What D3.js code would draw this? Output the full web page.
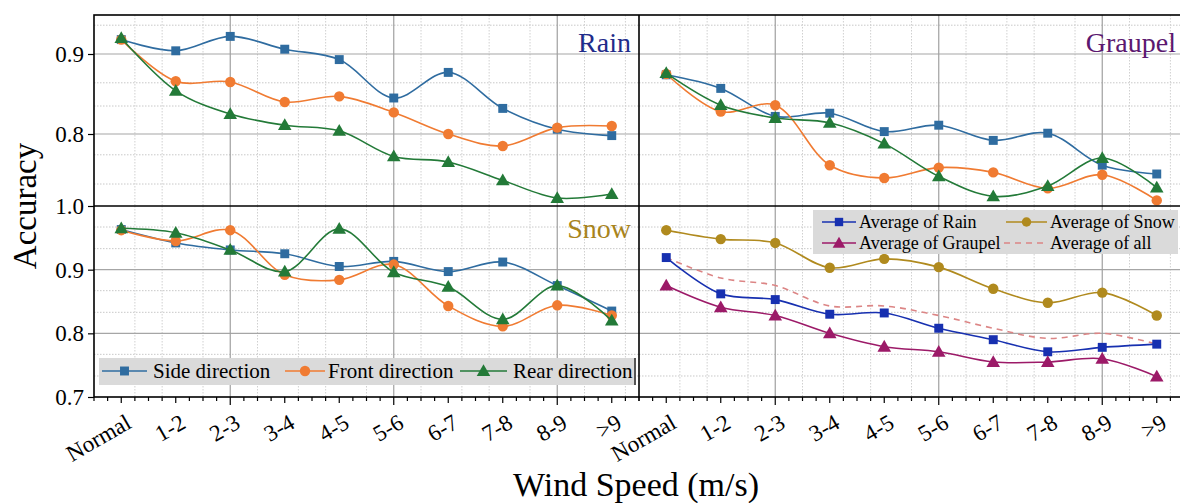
<!DOCTYPE html>
<html><head><meta charset="utf-8">
<script src="https://cdn.jsdelivr.net/npm/d3@7"></script>
<style>body{margin:0;background:#fff}svg{display:block;font-family:"Liberation Serif","Times New Roman",serif}</style>
</head><body><svg id="c" width="1180" height="503"></svg>
<script>
const categories = ["Normal","1-2","2-3","3-4","4-5","5-6","6-7","7-8","8-9",">9"];
// Rain panel
const rainSide  = [0.918,0.904,0.922,0.906,0.893,0.845,0.877,0.832,0.806,0.798];
const rainFront = [0.918,0.866,0.865,0.840,0.847,0.827,0.800,0.785,0.808,0.810];
const rainRear  = [0.920,0.854,0.825,0.811,0.804,0.772,0.765,0.742,0.720,0.725];
// Graupel panel
const graupelSide  = [0.874,0.857,0.822,0.826,0.803,0.811,0.792,0.801,0.761,0.750];
const graupelFront = [0.875,0.828,0.836,0.761,0.745,0.758,0.752,0.732,0.749,0.717];
const graupelRear  = [0.876,0.836,0.820,0.814,0.788,0.747,0.722,0.735,0.770,0.733];
// Snow panel
const snowSide  = [0.963,0.942,0.931,0.925,0.905,0.913,0.897,0.912,0.875,0.835];
const snowFront = [0.962,0.945,0.962,0.892,0.884,0.908,0.843,0.811,0.844,0.828];
const snowRear  = [0.965,0.958,0.931,0.897,0.964,0.896,0.873,0.822,0.875,0.820];
// Averages panel
const avgRain    = [0.919,0.862,0.853,0.830,0.832,0.808,0.790,0.771,0.778,0.783];
const avgSnow    = [0.962,0.948,0.942,0.903,0.917,0.904,0.870,0.848,0.864,0.828];
const avgGraupel = [0.875,0.841,0.828,0.800,0.779,0.771,0.755,0.755,0.760,0.732];
const avgAll     = [0.919,0.887,0.875,0.843,0.843,0.828,0.808,0.792,0.800,0.783];

const topTicks = [0.8, 0.9];
const bottomTicks = [0.7, 0.8, 0.9, 1.0];
const topMinor = [0.936, 0.864, 0.835, 0.774, 0.7375];
const bottomMinor = [0.967, 0.933, 0.867, 0.833, 0.767, 0.733];
const xMajorUnits = [3, 6, 9];
const xMinorGridUnits = [1.25,1.75,2.5,3.5,4.25,4.75,5.5,6.5,7.25,7.75,8.5,9.5,10.25];

const svg = d3.select("#c");
const L = 94, M = 639, R = 1184, T = 15, Mid = 206, B = 397;

const C = {side:"#2f6ca0", front:"#f07b32", rear:"#237a38",
  aRain:"#1730b0", aSnow:"#b08a1e", aGraupel:"#9c1a68", aAll:"#dc8585"};

const panels = [
  {x0:L, x1:M, y0:T, y1:Mid, dom:[0.71,0.94875], minor:topMinor, major:topTicks, label:"Rain", lc:"#1f2c8a", ly:52,
   series:[{v:rainSide,c:C.side,s:d3.symbolSquare},{v:rainFront,c:C.front,s:d3.symbolCircle},{v:rainRear,c:C.rear,s:d3.symbolTriangle}]},
  {x0:M, x1:R, y0:T, y1:Mid, dom:[0.71,0.94875], minor:topMinor, major:topTicks, label:"Graupel", lc:"#5b1870", ly:52,
   series:[{v:graupelSide,c:C.side,s:d3.symbolSquare},{v:graupelFront,c:C.front,s:d3.symbolCircle},{v:graupelRear,c:C.rear,s:d3.symbolTriangle}]},
  {x0:L, x1:M, y0:Mid, y1:B, dom:[0.7,1.0], minor:bottomMinor, major:[0.8,0.9], label:"Snow", lc:"#a8841c", ly:238,
   series:[{v:snowSide,c:C.side,s:d3.symbolSquare},{v:snowFront,c:C.front,s:d3.symbolCircle},{v:snowRear,c:C.rear,s:d3.symbolTriangle}]},
  {x0:M, x1:R, y0:Mid, y1:B, dom:[0.7,1.0], minor:bottomMinor, major:[0.8,0.9], label:null,
   series:[{v:avgAll,c:C.aAll,s:null,dash:"6,5"},{v:avgRain,c:C.aRain,s:d3.symbolSquare},{v:avgSnow,c:C.aSnow,s:d3.symbolCircle},{v:avgGraupel,c:C.aGraupel,s:d3.symbolTriangle}]}
];

const symSize = s => s===d3.symbolSquare?80:(s===d3.symbolCircle?85:80);
const FF = '"Liberation Serif","Times New Roman",serif';

panels.forEach(p => {
  const x = d3.scalePoint().domain(categories).range([p.x0, p.x1]).padding(0.5);
  const xu = d3.scaleLinear().domain([0.5, 10.5]).range([p.x0, p.x1]);
  const y = d3.scaleLinear().domain(p.dom).range([p.y1, p.y0]);
  p.x = x; p.xu = xu; p.y = y;
  const g = svg.append("g");
  g.selectAll(".mh").data(p.minor).join("line")
    .attr("x1", p.x0).attr("x2", p.x1).attr("y1", d=>y(d)).attr("y2", d=>y(d))
    .attr("stroke", "#c8c8c8").attr("stroke-width", 1).attr("stroke-dasharray", "1.5,1.5");
  g.selectAll(".mv").data(xMinorGridUnits).join("line")
    .attr("x1", d=>xu(d)).attr("x2", d=>xu(d)).attr("y1", p.y0).attr("y2", p.y1)
    .attr("stroke", "#d0d0d0").attr("stroke-width", 1).attr("stroke-dasharray", "1.5,1.5");
  g.selectAll(".Mh").data(p.major).join("line")
    .attr("x1", p.x0).attr("x2", p.x1).attr("y1", d=>y(d)).attr("y2", d=>y(d))
    .attr("stroke", "#a6a6a6").attr("stroke-width", 1.2);
  g.selectAll(".Mv").data(xMajorUnits).join("line")
    .attr("x1", d=>xu(d)).attr("x2", d=>xu(d)).attr("y1", p.y0).attr("y2", p.y1)
    .attr("stroke", "#a0a0a0").attr("stroke-width", 1.2);
  const cid = "clip" + p.x0 + "_" + p.y0;
  svg.append("clipPath").attr("id", cid).append("rect")
    .attr("x", p.x0).attr("y", p.y0).attr("width", p.x1-p.x0).attr("height", p.y1-p.y0);
  const gs = svg.append("g").attr("clip-path", `url(#${cid})`);
  const line = d3.line().x((d,i)=>x(categories[i])).y(d=>y(d)).curve(d3.curveCatmullRom.alpha(0.5));
  p.series.forEach(s => {
    gs.append("path").attr("d", line(s.v)).attr("fill","none").attr("stroke", s.c)
      .attr("stroke-width", 1.6).attr("stroke-dasharray", s.dash||null);
    if (s.s) {
      gs.selectAll(null).data(s.v).join("path")
        .attr("transform", (d,i)=>`translate(${x(categories[i])},${y(d) + (s.s===d3.symbolTriangle?1:0)})`)
        .attr("d", d3.symbol().type(s.s).size(symSize(s.s))).attr("fill", s.c);
    }
  });
  if (p.label) {
    svg.append("text").attr("x", p.x1===R ? 1176 : p.x1-8).attr("y", p.ly)
      .attr("text-anchor","end").attr("font-size", 28).attr("font-family", FF).attr("fill", p.lc).text(p.label);
  }
});

// frame
const frame = svg.append("g").attr("stroke","#000").attr("fill","none");
frame.append("rect").attr("x",L).attr("y",T).attr("width",R-L).attr("height",B-T).attr("stroke-width",1.6);
frame.append("line").attr("x1",M).attr("x2",M).attr("y1",T).attr("y2",B).attr("stroke-width",1.6);
frame.append("line").attr("x1",L).attr("x2",R).attr("y1",Mid).attr("y2",Mid).attr("stroke-width",1.6);

// y axes
[panels[0], panels[2]].forEach((p,k) => {
  const ticks = k===0 ? topTicks : bottomTicks;
  const ax = d3.axisLeft(p.y).tickValues(ticks).tickFormat(d3.format(".1f")).tickSize(6).tickPadding(4);
  const g = svg.append("g").attr("transform", `translate(${L},0)`).call(ax);
  g.attr("font-family", FF);
  g.select(".domain").remove();
  g.selectAll("line").attr("stroke","#000").attr("stroke-width",1.2);
  g.selectAll("text").attr("font-size", 23).attr("fill","#000");
});

// x axes
[panels[2], panels[3]].forEach(p => {
  const g = svg.append("g");
  const minorU = d3.range(0.5, 10.51, 0.25);
  g.selectAll("line").data(minorU).join("line")
    .attr("x1", d=>p.xu(d)).attr("x2", d=>p.xu(d)).attr("y1", B)
    .attr("y2", d=> xMajorUnits.includes(d) ? B+8 : (Number.isInteger(d) ? B+6 : B+4))
    .attr("stroke","#000").attr("stroke-width",1.2);
  const ax = d3.axisBottom(p.x).tickSize(0).tickPadding(0);
  const ga = svg.append("g").attr("transform", `translate(0,${B})`).call(ax);
  ga.attr("font-family", FF);
  ga.select(".domain").remove();
  ga.selectAll("text").attr("font-size", 23).attr("fill","#000")
    .attr("text-anchor","end").attr("dy", null)
    .attr("transform","translate(11,30) rotate(-30)");
});

// axis titles
svg.append("text").attr("transform","translate(36,206) rotate(-90)").attr("text-anchor","middle")
  .attr("font-family", FF).attr("font-size",33).text("Accuracy");
svg.append("text").attr("x",636).attr("y",496).attr("text-anchor","middle").attr("font-family", FF).attr("font-size",34).text("Wind Speed (m/s)");

// legend bottom-left
const lg1 = svg.append("g").attr("font-family", FF);
lg1.append("rect").attr("x",99).attr("y",358).attr("width",536).attr("height",27).attr("fill","#dadada");
lg1.append("line").attr("x1",635).attr("x2",635).attr("y1",358).attr("y2",385).attr("stroke","#555").attr("stroke-width",2);
const leg1 = [{t:"Side direction",c:C.side,s:d3.symbolSquare,x1:102,x2:147,tx:153},
  {t:"Front direction",c:C.front,s:d3.symbolCircle,x1:285,x2:325,tx:328},
  {t:"Rear direction",c:C.rear,s:d3.symbolTriangle,x1:460,x2:507,tx:513}];
leg1.forEach(e => {
  lg1.append("line").attr("x1",e.x1).attr("x2",e.x2).attr("y1",371).attr("y2",371).attr("stroke",e.c).attr("stroke-width",1.6);
  lg1.append("path").attr("transform",`translate(${(e.x1+e.x2)/2},${371 + (e.s===d3.symbolTriangle?1:0)})`).attr("d",d3.symbol().type(e.s).size(symSize(e.s))).attr("fill",e.c);
  lg1.append("text").attr("x",e.tx).attr("y",378).attr("font-size",21).text(e.t);
});
// legend bottom-right
const lg2 = svg.append("g").attr("font-family", FF);
lg2.append("rect").attr("x",813).attr("y",210).attr("width",365).attr("height",44).attr("fill","#dadada");
const leg2 = [{t:"Average of Rain",c:C.aRain,s:d3.symbolSquare,x1:822,x2:856,tx:859,y:222},
  {t:"Average of Snow",c:C.aSnow,s:d3.symbolCircle,x1:1006,x2:1047,tx:1050,y:222},
  {t:"Average of Graupel",c:C.aGraupel,s:d3.symbolTriangle,x1:822,x2:856,tx:859,y:243},
  {t:"Average of all",c:C.aAll,s:null,x1:1004,x2:1047,tx:1050,y:243,dash:"6,5"}];
leg2.forEach(e => {
  lg2.append("line").attr("x1",e.x1).attr("x2",e.x2).attr("y1",e.y).attr("y2",e.y).attr("stroke",e.c).attr("stroke-width",1.6).attr("stroke-dasharray",e.dash||null);
  if (e.s) lg2.append("path").attr("transform",`translate(${(e.x1+e.x2)/2},${e.y + (e.s===d3.symbolTriangle?1:0)})`).attr("d",d3.symbol().type(e.s).size(70)).attr("fill",e.c);
  lg2.append("text").attr("x",e.tx).attr("y",e.y+6).attr("font-size",18).text(e.t);
});
</script></body></html>
